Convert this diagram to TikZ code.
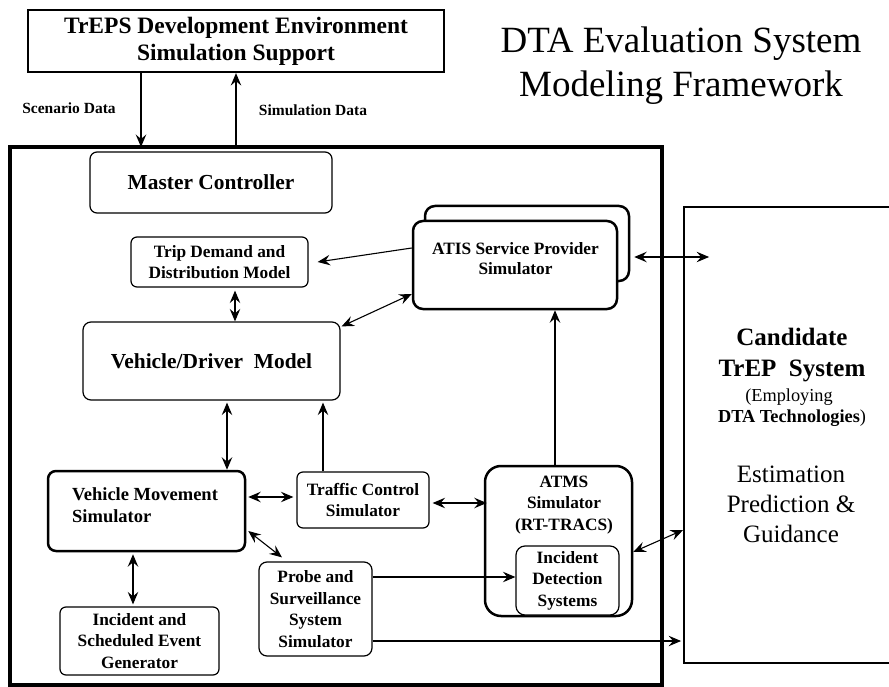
\documentclass[tikz,border=0pt]{standalone}
\usepackage{fontspec}
\setmainfont{Liberation Serif}
\usetikzlibrary{arrows.meta}
\newcommand\fsz[2]{\fontsize{#1}{#2}\selectfont}
\tikzset{
  box/.style={draw, rounded corners=6pt, line width=1.2pt, align=center, fill=white, inner sep=0pt,
    font=\fsz{17.3}{21.5}\bfseries},
  thickbox/.style={box, line width=2.5pt},
  txt/.style={inner sep=0pt, align=center},
  arr/.style={line width=1.1pt, -{Stealth[length=12.5pt,width=10.5pt,inset=4.5pt]}},
  darr/.style={line width=1.1pt, {Stealth[length=12.5pt,width=10.5pt,inset=4.5pt]}-{Stealth[length=12.5pt,width=10.5pt,inset=4.5pt]}},
}
\begin{document}
\begin{tikzpicture}[x=1pt,y=-1pt]
\useasboundingbox (0,0) rectangle (889,687);

% title
\node[txt, font=\fsz{37}{44}] (title) at (681,66) {DTA Evaluation System\\Modeling Framework};

% top box
\node[draw, line width=2.2pt, minimum width=416pt, minimum height=62pt, inner sep=0pt, align=center,
  font=\fsz{23.5}{27}\bfseries] (treps) at (236,41) {TrEPS Development Environment\\Simulation Support};

% main frame
\node[draw, line width=4.5pt, minimum width=652pt, minimum height=538pt, inner sep=0pt] (frame) at (336,416) {};

% candidate box
\node[draw, line width=1.8pt, minimum width=216pt, minimum height=456pt, inner sep=0pt] (cand) at (792,435) {};

% data labels
\node[txt, font=\fsz{15.5}{18}\bfseries] (scl) at (69,108) {Scenario Data};
\node[txt, font=\fsz{15.5}{18}\bfseries] (siml) at (313,110) {Simulation Data};

% inner boxes
\node[box, minimum width=242pt, minimum height=61pt, rounded corners=7pt, font=\fsz{21.4}{25}\bfseries] (master) at (211,182.5) {Master Controller};
\node[box, minimum width=177pt, minimum height=50pt] (trip) at (219.5,262) {Trip Demand and\\Distribution Model};
\node[box, minimum width=257pt, minimum height=78pt, rounded corners=8pt, font=\fsz{21.4}{25}\bfseries] (vdm) at (211.5,361) {Vehicle/Driver\ \ Model};

% ATIS (stacked)
\node[thickbox, minimum width=204pt, minimum height=75pt, rounded corners=10pt] (atisback) at (527,243.5) {};
\node[thickbox, minimum width=204pt, minimum height=88pt, rounded corners=10pt] (atis) at (515,265) {};
\node[txt, font=\fsz{17.3}{20}\bfseries] (atist) at (515.5,259) {ATIS Service Provider\\Simulator};

\node[thickbox, minimum width=197pt, minimum height=80pt, rounded corners=8pt] (vms) at (146.5,511) {};
\node[txt, anchor=north west, align=left, font=\fsz{18.5}{22}\bfseries] (vmst) at (72,487) {Vehicle Movement\\Simulator};

\node[box, minimum width=132pt, minimum height=56pt] (tcs) at (363,500) {Traffic Control\\Simulator};
\node[box, minimum width=113pt, minimum height=94pt, rounded corners=8pt] (probe) at (315.5,609) {Probe and\\Surveillance\\System\\Simulator};
\node[box, minimum width=159pt, minimum height=68pt] (ise) at (139.5,641) {Incident and\\Scheduled Event\\Generator};

% ATMS
\node[thickbox, minimum width=147pt, minimum height=150pt, rounded corners=16pt] (atms) at (558.5,541) {};
\node[txt, font=\fsz{17.3}{21.5}\bfseries] (atmst) at (564,505) {ATMS\\Simulator\\(RT-TRACS)};
\node[box, minimum width=103pt, minimum height=69pt, rounded corners=9pt] (ids) at (567.5,580.5) {Incident\\Detection\\Systems};

% candidate text
\node[txt, anchor=base, font=\fsz{25}{31}\bfseries] (c1) at (792,345) {Candidate};
\node[txt, anchor=base, font=\fsz{25}{31}\bfseries] (c2) at (792,376) {TrEP\ \ System};
\node[txt, anchor=base, font=\fsz{18.3}{21}] (c3) at (789,401) {(Employing};
\node[txt, anchor=base, font=\fsz{18.3}{21}] (c4) at (792,422) {\textbf{DTA Technologies})};
\node[txt, anchor=base, font=\fsz{25}{30}] (c5) at (791,482) {Estimation};
\node[txt, anchor=base, font=\fsz{25}{30}] (c6) at (791,512) {Prediction \&};
\node[txt, anchor=base, font=\fsz{25}{30}] (c7) at (791,542) {Guidance};

% connectors
\coordinate (scin) at (141,147);
\coordinate (simout) at (236,147);
\draw[arr] (treps.south -| scin) -- (scin);
\draw[arr] (simout) -- (treps.south -| simout);

\draw[arr] ([yshift=17pt]atis.west) -- ([xshift=9pt]trip.east);
\draw[darr] ([xshift=15.5pt,yshift=-3pt]trip.south) -- ([xshift=23.5pt]vdm.north);
\draw[darr] ([xshift=1pt,yshift=-5pt]vdm.north east) -- ([yshift=-29pt]atis.west);
\draw[darr] ([xshift=15.5pt,yshift=-2pt]vdm.south) -- ([xshift=80.5pt]vms.north);
\draw[arr] ([xshift=-40pt]tcs.north) -- ([xshift=111.5pt,yshift=-2pt]vdm.south);
\draw[darr] ([xshift=2pt,yshift=14pt]vms.east) -- ([xshift=-3pt,yshift=3pt]tcs.west);
\draw[darr] ([xshift=3pt,yshift=-3pt]tcs.east) -- ([xshift=3pt,yshift=38pt]atms.west);
\draw[arr] ([xshift=-3.5pt]atms.north) -- ([xshift=40pt]atis.south);
\draw[darr] ([xshift=2pt,yshift=-20pt]vms.east) -- ([xshift=-33.5pt,yshift=4pt]probe.north);
\draw[darr] ([xshift=-13.5pt,yshift=-2pt]vms.south) -- ([xshift=-6.5pt,yshift=2pt]ise.north);
\draw[arr] ([yshift=32pt]probe.east) -- ([yshift=3.5pt]ids.west);
\draw[arr] ([yshift=-32pt]probe.east) -- ([xshift=-2pt,yshift=-206pt]cand.west);
\draw[darr] ([yshift=-11pt]atms.east) -- ([yshift=-95pt]cand.west);
\draw[darr] ([xshift=4pt,yshift=-13.5pt]atisback.east) -- ([xshift=26pt,yshift=178pt]cand.west);
\end{tikzpicture}
\end{document}
